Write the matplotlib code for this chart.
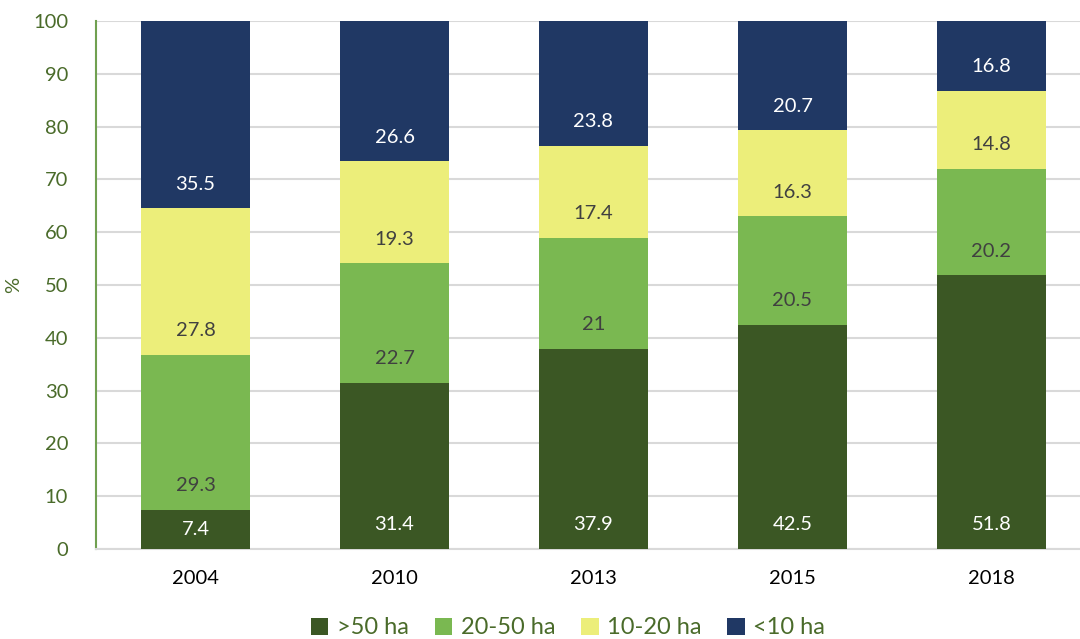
import matplotlib
matplotlib.use('Agg')
import matplotlib.pyplot as plt
import numpy as np

plt.rcParams['font.family'] = ['Lato', 'DejaVu Sans']

# Share of farms by size class (%)
years = ['2004', '2010', '2013', '2015', '2018']
over_50 = [7.4, 31.4, 37.9, 42.5, 51.8]
ha_20_50 = [29.3, 22.7, 21, 20.5, 20.2]
ha_10_20 = [27.8, 19.3, 17.4, 16.3, 14.8]
under_10 = [35.5, 26.6, 23.8, 20.7, 16.8]

series = [
    ('>50 ha', over_50, '#3B5724', 'white'),
    ('20-50 ha', ha_20_50, '#7AB851', '#404040'),
    ('10-20 ha', ha_10_20, '#ECEE7A', '#404040'),
    ('<10 ha', under_10, '#203864', 'white'),
]
axis_green = '#4A6B2A'

fig = plt.figure(figsize=(10.8, 6.39), dpi=100)
ax = fig.add_axes([96 / 1080, 1 - 549 / 639, (1091 - 96) / 1080, (549 - 21) / 639])

x = np.arange(len(years))
bottom = np.zeros(len(years))
for name, vals, color, txt in series:
    vals = np.array(vals, dtype=float)
    ax.bar(x, vals, 0.55, bottom=bottom, color=color, label=name, zorder=3)
    # labels sit near the base of each segment (Excel "inside base")
    for xi, b, v in zip(x, bottom, vals):
        ax.text(xi, b + min(4.6, v / 2), f'{v:g}', ha='center', va='center',
                color=txt, fontsize=14.5, zorder=4)
    bottom += vals

ax.set_ylim(0, 100)
ax.set_xlim(-0.5, 4.5)
ax.set_yticks(range(0, 101, 10))
ax.set_xticks(x)
ax.set_xticklabels(years)
ax.grid(axis='y', color='#D9D9D9', linewidth=1.5, zorder=0)
ax.tick_params(axis='y', colors=axis_green, labelsize=14.5, length=0, pad=20)
ax.tick_params(axis='x', colors='black', labelsize=14.5, length=0, pad=15)
for s in ['top', 'right']:
    ax.spines[s].set_visible(False)
ax.spines['left'].set_color('#70A050')
ax.spines['left'].set_linewidth(1.5)
ax.spines['bottom'].set_color('#D9D9D9')
ax.spines['bottom'].set_linewidth(1.5)
ax.set_ylabel('%', color=axis_green, fontsize=14.5)
ax.yaxis.set_label_coords((22 - 96) / 995, 0.5)

leg = fig.legend(loc='center', bbox_to_anchor=(568 / 1080, 1 - 628 / 639), ncol=4,
                 frameon=False, fontsize=17, handlelength=0.75, handleheight=0.75,
                 handletextpad=0.35, columnspacing=1.1)
for t in leg.get_texts():
    t.set_color(axis_green)

fig.savefig('out.png', dpi=100)
